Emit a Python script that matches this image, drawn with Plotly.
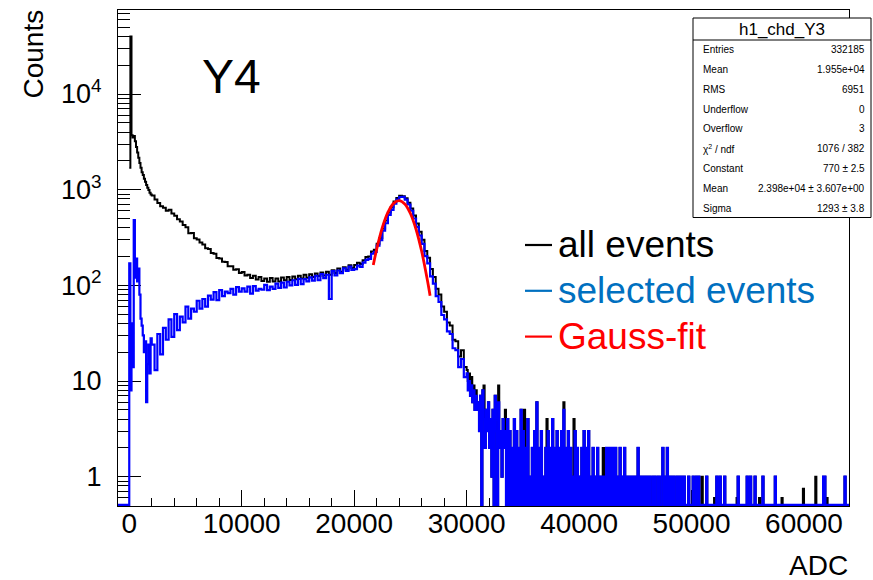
import math
import plotly.graph_objects as go

# ---------------- data ----------------
X_RANGE = [-1000, 64000]
UNDERFLOW_START = -1000

# segment A: ADC 0-2000, 100-ADC bins
SEG_A_START, SEG_A_WIDTH = 0, 100
ALL_A = [1700, 40000, 3700, 3500, 3650, 3200, 2800, 2450, 2150, 1900,
         1700, 1520, 1420, 1300, 1210, 1120, 1050, 990, 930, 890]
SEL_A = [170, 8, 40, 14, 480, 120, 190, 110, 150, 80,
         45, 38, 30, 20, 26, 6, 15, 24, 12, 28]

# segment B: ADC 2000-30000, 250-ADC bins
SEG_B_START, SEG_B_WIDTH = 2000, 250
ALL_B = [870, 790, 725, 672, 648, 602, 615, 562, 534, 492, 466, 428,
         404, 350, 352, 310, 302, 280, 268, 244, 240, 218, 214, 193,
         191, 176, 175, 158, 158, 146, 147, 135, 138, 127, 129, 119,
         126, 115, 122, 111, 118, 109, 119, 110, 118, 110, 121, 113,
         122, 114, 124, 116, 126, 118, 129, 120, 131, 122, 133, 125,
         136, 127, 139, 129, 144, 135, 150, 139, 155, 146, 162, 152,
         163, 172, 167, 183, 198, 200, 226, 236, 272, 312, 392, 476,
         578, 655, 752, 818, 862, 855, 812, 730, 635, 536, 444, 364,
         300, 229, 194, 148, 122, 92, 80, 60, 53, 41, 38, 27,
         26, 18, 21, 14]
SEL_B = [24, 13, 31, 19, 36, 27, 44, 29, 50, 34, 47, 41,
         60, 45, 57, 53, 69, 57, 72, 60, 78, 71, 85, 70,
         89, 77, 86, 83, 92, 80, 96, 86, 93, 86, 97, 82,
         98, 88, 92, 90, 101, 89, 97, 92, 104, 94, 107, 95,
         109, 100, 113, 101, 117, 103, 116, 110, 121, 112, 126, 113,
         131, 119, 129, 72, 141, 127, 143, 134, 151, 142, 157, 145,
         148, 161, 156, 173, 185, 189, 214, 224, 260, 297, 372, 446,
         545, 615, 714, 786, 838, 842, 788, 700, 602, 500, 408, 332,
         271, 202, 170, 124, 104, 77, 67, 49, 44, 33, 31, 22,
         21, 14, 17, 11]

# segment C: ADC 30000-64000, 100-ADC bins (selected events)
SEG_C_START, SEG_C_WIDTH = 30000, 100
SEL_C = [
    12, 8, 10, 7, 9, 6, 8, 5, 7, 5,
    6, 3, 7, 0, 8, 4, 2, 5, 3, 6,
    2, 4, 1, 5, 0, 7, 3, 0, 6, 2,
    3, 1, 4, 2, 3, 0, 4, 0, 3, 0,
    2, 0, 4, 0, 3, 0, 2, 0, 5, 0,
    3, 0, 2, 0, 4, 0, 1, 0, 2, 0,
    3, 0, 6, 0, 2, 0, 3, 0, 1, 0,
    2, 0, 3, 0, 2, 0, 4, 0, 2, 0,
    3, 0, 2, 0, 3, 0, 5, 0, 2, 0,
    3, 0, 2, 0, 1, 0, 3, 0, 2, 0,
    1, 0, 2, 0, 3, 0, 2, 0, 3, 0,
    1, 0, 2, 0, 1, 0, 2, 0, 1, 0,
    1, 0, 1, 0, 2, 0, 2, 0, 2, 0,
    2, 0, 2, 0, 1, 0, 2, 0, 1, 0,
    2, 0, 1, 0, 1, 0, 1, 0, 1, 0,
    1, 0, 2, 0, 1, 0, 1, 0, 1, 0,
    1, 0, 1, 0, 0, 1, 0, 1, 0, 0,
    1, 0, 0, 1, 2, 0, 1, 0, 2, 0,
    1, 0, 1, 0, 1, 0, 0, 1, 0, 1,
    0, 1, 0, 1, 0, 0, 0, 1, 0, 0,
    0, 1, 0, 0, 1, 0, 1, 0, 0, 0,
    0, 0, 0, 1, 0, 0, 0, 0, 0, 0,
    0, 0, 1, 0, 0, 1, 0, 0, 0, 1,
    0, 0, 0, 0, 0, 0, 0, 0, 0, 0,
    0, 1, 0, 0, 0, 0, 0, 0, 0, 1,
    0, 0, 1, 0, 0, 0, 1, 0, 0, 0,
    0, 0, 0, 1, 0, 0, 0, 0, 0, 0,
    0, 0, 0, 0, 1, 0, 0, 0, 0, 0,
    0, 0, 0, 0, 0, 0, 0, 0, 0, 0,
    0, 0, 0, 0, 0, 0, 0, 0, 0, 0,
    0, 0, 0, 0, 0, 0, 0, 0, 0, 0,
    0, 0, 0, 0, 0, 0, 0, 1, 1, 0,
    0, 0, 0, 0, 0, 0, 0, 0, 0, 0,
    0, 0, 0, 0, 0, 0, 1, 0, 0, 0,
]
# all events exceed selected events in the tail only at these bins (ADC bin start: extra counts)
ALL_C_EXTRA = {30000: 1, 30100: 2, 30200: 2, 30300: 2, 30400: 2, 30600: 1, 30800: 1,
               31500: 5, 32800: 3, 33400: 2, 35100: 5, 37100: 4, 38600: 1, 39500: 4,
               42100: 2, 42300: 2, 50900: 1, 52000: 0.6, 54000: 0.6,
               56000: 0.6, 58000: 0.6, 59900: 0.75, 61000: 1, 62000: 0.6}

# Gauss fit curve
FIT_ADC = [21700, 22000, 22500, 23000, 23500, 24000, 24500, 25000, 25500, 26000, 26500, 26750]
FIT_COUNTS = [163, 238, 400, 578, 719, 770, 710, 564, 386, 227, 115, 78]

X_TICKS = [0, 10000, 20000, 30000, 40000, 50000, 60000]
Y_TICKS = [1, 10, 100, 1000, 10000]
Y_TICK_TEXT = ["1", "10", "10<sup>2</sup>", "10<sup>3</sup>", "10<sup>4</sup>"]

STATS_TITLE = "h1_chd_Y3"
STATS_LABELS = ["Entries", "Mean", "RMS", "Underflow", "Overflow",
                "\u03c7<sup>2</sup> / ndf", "Constant", "Mean", "Sigma"]
STATS_VALUES = ["332185", "1.955e+04", "6951", "0", "3", "1076 / 382",
                "770 \u00b1 2.5", "2.398e+04 \u00b1 3.607e+00", "1293 \u00b1 3.8"]

LEGEND_TEXT = ["all events", "selected events", "Gauss-fit"]

# ---------------- build step series ----------------
ALL_C = [c + ALL_C_EXTRA.get(SEG_C_START + i * SEG_C_WIDTH, 0) for i, c in enumerate(SEL_C)]
END_ADC = SEG_C_START + len(SEL_C) * SEG_C_WIDTH

Y_MIN = 0.494
Y_MAX_LOG = 4.878
ZERO_SHOW = 10 ** (math.log10(Y_MIN) + 1.1 / 95.7)


def step_series(segments, with_underflow):
    xs, ys = ([UNDERFLOW_START], [0]) if with_underflow else ([], [])
    for start, width, counts in segments:
        for i, c in enumerate(counts):
            xs.append(start + i * width)
            ys.append(c)
    xs.append(END_ADC)
    ys.append(ys[-1])
    return xs, [v if v > 0 else ZERO_SHOW for v in ys]


x_all, y_all = step_series([(SEG_A_START, SEG_A_WIDTH, ALL_A),
                            (SEG_B_START, SEG_B_WIDTH, ALL_B),
                            (SEG_C_START, SEG_C_WIDTH, ALL_C)], False)
x_sel, y_sel = step_series([(SEG_A_START, SEG_A_WIDTH, SEL_A),
                            (SEG_B_START, SEG_B_WIDTH, SEL_B),
                            (SEG_C_START, SEG_C_WIDTH, SEL_C)], True)

FONT = "Liberation Sans, Arial, Helvetica, sans-serif"

fig = go.Figure()
fig.add_trace(go.Scatter(x=x_all, y=y_all, mode="lines",
                         line=dict(color="#000000", width=2, shape="hv", simplify=False),
                         hoverinfo="skip"))
fig.add_trace(go.Scatter(x=x_sel, y=y_sel, mode="lines",
                         line=dict(color="#0000ff", width=2.2, shape="hv", simplify=False),
                         hoverinfo="skip"))
fig.add_trace(go.Scatter(x=FIT_ADC, y=FIT_COUNTS, mode="lines",
                         line=dict(color="#ff0000", width=2.8, shape="spline"), hoverinfo="skip"))

# ---------------- layout ----------------
W, H = 873, 580
ML, MR, MT, MB = 118, 24, 10, 74
PW, PH = W - ML - MR, H - MT - MB


def fx(p):
    return (p - ML) / PW


def fy(p):
    return (H - MB - p) / PH


minor_y = []
for dec in [0.1, 1, 10, 100, 1000, 10000]:
    for m in range(2, 10):
        v = m * dec
        if Y_MIN < v < 10 ** Y_MAX_LOG:
            minor_y.append(v)

annotations = []
shapes = []

# axis titles
annotations.append(dict(text="Counts", x=fx(33), y=fy(8), xref="paper", yref="paper",
                        xanchor="center", yanchor="top", textangle=-90, showarrow=False,
                        font=dict(family=FONT, size=28, color="black")))
annotations.append(dict(text="ADC", x=fx(850), y=fy(565), xref="paper", yref="paper",
                        xanchor="right", yanchor="middle", showarrow=False,
                        font=dict(family=FONT, size=28, color="black")))
# panel label
annotations.append(dict(text="Y4", x=fx(200), y=fy(76), xref="paper", yref="paper",
                        xanchor="left", yanchor="middle", showarrow=False,
                        font=dict(family=FONT, size=48, color="black")))

# legend
LEG_COLORS = ["#000000", "#0070c0", "#ff0000"]
for i, (txt, col) in enumerate(zip(LEGEND_TEXT, LEG_COLORS)):
    yc = 245 + i * 45.8
    shapes.append(dict(type="line", xref="paper", yref="paper", x0=fx(525), x1=fx(552),
                       y0=fy(yc), y1=fy(yc), line=dict(color=col, width=2.2)))
    annotations.append(dict(text=txt, x=fx(556), y=fy(yc), xref="paper", yref="paper",
                            xanchor="left", yanchor="middle", showarrow=False,
                            font=dict(family=FONT, size=37, color=col)))

# stats box
BX0, BX1, BY0, BY1 = 693, 871, 18, 217.5
shapes.append(dict(type="rect", xref="paper", yref="paper", x0=fx(BX0), x1=fx(BX1),
                   y0=fy(BY0), y1=fy(BY1), line=dict(color="black", width=1), fillcolor="white",
                   layer="above"))
shapes.append(dict(type="line", xref="paper", yref="paper", x0=fx(BX0), x1=fx(BX1),
                   y0=fy(40), y1=fy(40), line=dict(color="black", width=1)))
annotations.append(dict(text=STATS_TITLE, x=fx((BX0 + BX1) / 2), y=fy(29), xref="paper", yref="paper",
                        xanchor="center", yanchor="middle", showarrow=False,
                        font=dict(family=FONT, size=17, color="black")))
for i, (lab, val) in enumerate(zip(STATS_LABELS, STATS_VALUES)):
    yc = 49.3 + i * 19.9
    annotations.append(dict(text=lab, x=fx(701), y=fy(yc), xref="paper", yref="paper",
                            xanchor="left", yanchor="middle", showarrow=False,
                            font=dict(family=FONT, size=10, color="black")))
    annotations.append(dict(text=val, x=fx(867), y=fy(yc), xref="paper", yref="paper",
                            xanchor="right", yanchor="middle", showarrow=False,
                            font=dict(family=FONT, size=10, color="black")))

fig.update_layout(
    width=W, height=H,
    margin=dict(l=ML, r=MR, t=MT, b=MB, pad=0),
    paper_bgcolor="white", plot_bgcolor="white",
    showlegend=False,
    font=dict(family=FONT, color="black"),
    xaxis=dict(range=X_RANGE, showline=True, mirror=True, linecolor="black", linewidth=1,
               showgrid=False, zeroline=False, ticks="inside", ticklen=16, tickwidth=1,
               tickcolor="black", tickmode="array", tickvals=X_TICKS,
               ticktext=[str(t) for t in X_TICKS], tickfont=dict(family=FONT, size=28, color="black"),
               layer="below traces", ticklabelstandoff=-8,
               minor=dict(ticks="inside", ticklen=8, tickwidth=1, tickcolor="black",
                          tick0=0, dtick=2000, showgrid=False)),
    yaxis=dict(type="log", range=[math.log10(Y_MIN), Y_MAX_LOG], showline=True, mirror=True,
               linecolor="black", linewidth=1, showgrid=False, zeroline=False,
               ticks="inside", ticklen=23, tickwidth=1, tickcolor="black",
               tickmode="array", tickvals=Y_TICKS, ticktext=Y_TICK_TEXT,
               tickfont=dict(family=FONT, size=27, color="black"),
               layer="below traces", ticklabelstandoff=10,
               minor=dict(ticks="inside", ticklen=12, tickwidth=1, tickcolor="black",
                          tickmode="array", tickvals=minor_y, showgrid=False)),
    annotations=annotations,
    shapes=shapes,
)

fig.write_html("out.html", config={"displayModeBar": False})
